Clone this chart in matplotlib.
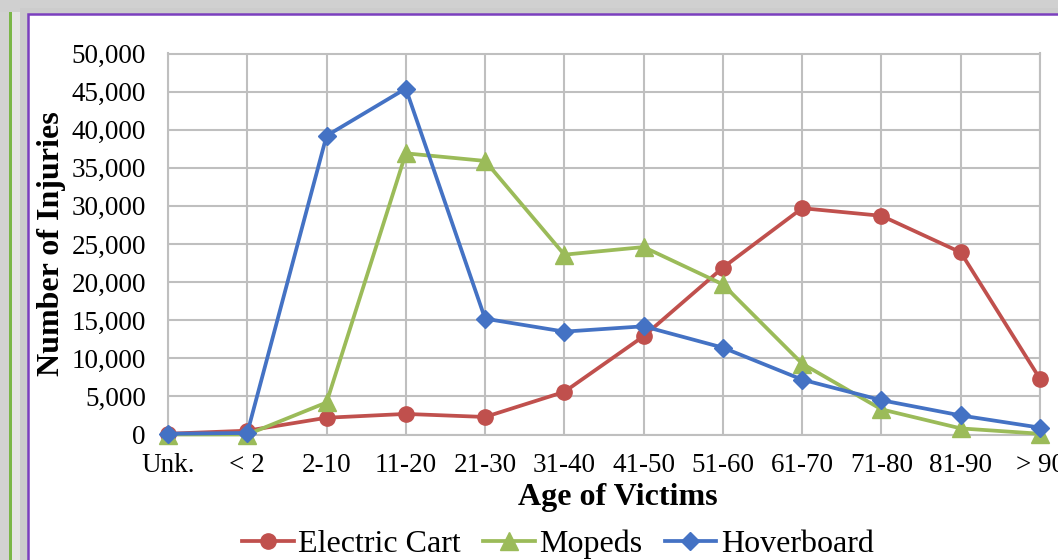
import matplotlib
matplotlib.use("Agg")
import matplotlib.pyplot as plt
from matplotlib.patches import Rectangle
from matplotlib.ticker import FuncFormatter

ages = ["Unk.", "< 2", "2-10", "11-20", "21-30", "31-40", "41-50",
        "51-60", "61-70", "71-80", "81-90", "> 90"]
electric_cart = [100, 500, 2200, 2700, 2300, 5600, 12900, 21900, 29700, 28700, 23900, 7300]
mopeds = [0, 0, 4200, 36900, 35900, 23600, 24600, 19700, 9300, 3300, 800, 100]
hoverboard = [100, 200, 39200, 45400, 15200, 13500, 14200, 11400, 7200, 4500, 2500, 900]

W, H = 1058, 560
plt.rcParams['font.family'] = ['Liberation Serif', 'DejaVu Serif']

fig = plt.figure(figsize=(W / 100, H / 100), dpi=100)
fig.patch.set_facecolor('#e4e4e4')

# page background: textured strip, green rule, shadow, white panel
fig.patches.append(Rectangle((0, 0), 9 / W, 1, transform=fig.transFigure,
                             facecolor='#d2d2d2', edgecolor='none', zorder=-10))
fig.patches.append(Rectangle((9 / W, 0), 2.5 / W, 1, transform=fig.transFigure,
                             facecolor='#7ab648', edgecolor='none', zorder=-9))
fig.patches.append(Rectangle((0, 1 - 12 / H), 1, 12 / H, transform=fig.transFigure,
                             facecolor='#d0d0d0', edgecolor='none', zorder=-9))
fig.patches.append(Rectangle((20 / W, -0.1), 1.2, 1.1 - 8 / H, transform=fig.transFigure,
                             facecolor='#cccccc', edgecolor='none', zorder=-8))
fig.patches.append(Rectangle((28 / W, -0.1), 1.2, 1.1 - 14 / H, transform=fig.transFigure,
                             facecolor='white', edgecolor='#7b3fbe', linewidth=1.8,
                             zorder=-7))

ax = fig.add_axes([168 / W, 125.5 / H, 872 / W, 381 / H])
ax.set_facecolor('white')

x = list(range(len(ages)))
ax.plot(x, electric_cart, color='#c0504d', lw=2.7, marker='o', ms=11,
        label='Electric Cart', clip_on=False, zorder=3)
ax.plot(x, mopeds, color='#9bbb59', lw=2.7, marker='^', ms=12.5,
        label='Mopeds', clip_on=False, zorder=4)
ax.plot(x, hoverboard, color='#4472c4', lw=2.7, marker='D', ms=9,
        label='Hoverboard', clip_on=False, zorder=5)

ax.set_xlim(0, len(ages) - 1)
ax.set_ylim(0, 50000)
ax.set_xticks(x)
ax.set_xticklabels(ages)
ax.set_yticks(range(0, 50001, 5000))
ax.yaxis.set_major_formatter(FuncFormatter(lambda v, p: f"{int(v):,}"))
ax.grid(True, color='#bfbfbf', lw=1.5)
ax.set_axisbelow(True)
for s in ax.spines.values():
    s.set_color('#bfbfbf')
    s.set_linewidth(1.5)
ax.tick_params(axis='both', length=0, labelsize=19.5, colors='black')
ax.tick_params(axis='x', pad=13)
ax.tick_params(axis='y', pad=16)

fig.text(52 / W, 1 - 244 / H, "Number of Injuries", rotation=90, fontsize=23,
         fontweight='bold', ha='center', va='center')
fig.text(618 / W, 1 - 497 / H, "Age of Victims", fontsize=23,
         fontweight='bold', ha='center', va='center')

fig.legend(loc='center', bbox_to_anchor=(558 / W, 1 - 544 / H), ncol=3,
           frameon=False, fontsize=23, handlelength=1.6, handletextpad=0.15,
           columnspacing=0.7, borderpad=0)

fig.savefig("out.png", dpi=100)
